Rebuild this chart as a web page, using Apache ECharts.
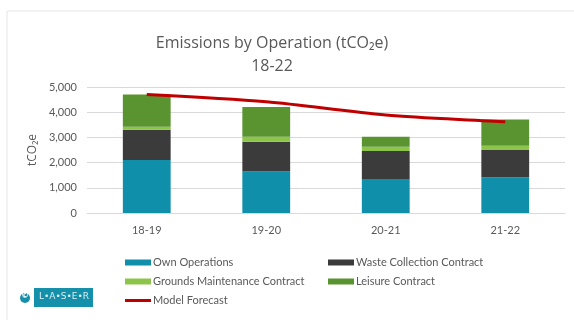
<!DOCTYPE html>
<html>
<head>
<meta charset="utf-8">
<script src="https://cdn.jsdelivr.net/npm/echarts@6/dist/echarts.min.js"></script>
<style>
  html, body { margin: 0; padding: 0; background: #fff; }
  #main { width: 574px; height: 320px; }
</style>
</head>
<body>
<div id="main"></div>
<script>
  // data
  var years = ['18-19', '19-20', '20-21', '21-22'];
  var ownOperations = [2100, 1650, 1350, 1420];
  var wasteCollection = [1200, 1180, 1110, 1080];
  var groundsMaintenance = [120, 200, 170, 170];
  var leisureContract = [1280, 1180, 400, 1045];
  var modelForecast = [4700, 4410, 3890, 3620];
  var yTicks = [0, 1000, 2000, 3000, 4000, 5000];

  var grey = '#595959';
  var font = 'Lato';
  var chart = echarts.init(document.getElementById('main'));

  function barSeries(name, data, color) {
    return {
      name: name,
      type: 'bar',
      stack: 'total',
      barWidth: '40%',
      itemStyle: { color: color },
      data: data
    };
  }

  var legendText = { color: grey, fontSize: 11, fontFamily: font, padding: [0, 0, 0, -3] };

  var option = {
    animation: false,
    title: {
      text: 'Emissions by Operation (tCO₂e)\n18-22',
      left: 267,
      textAlign: 'center',
      top: 27,
      textStyle: {
        color: grey,
        fontFamily: 'Open Sans',
        fontWeight: 'normal',
        fontSize: 16,
        lineHeight: 23
      }
    },
    grid: { left: 87, right: 9, top: 87, bottom: 107 },
    legend: [{
      orient: 'vertical',
      left: 120,
      top: 252,
      itemWidth: 26,
      itemHeight: 6,
      itemGap: 8,
      textStyle: legendText,
      data: [
        { name: 'Own Operations', icon: 'rect' },
        { name: 'Grounds Maintenance Contract', icon: 'rect' },
        { name: 'Model Forecast', icon: 'path://M0,0 L26,0 L26,3 L0,3 Z' }
      ]
    }, {
      orient: 'vertical',
      left: 323,
      top: 252,
      itemWidth: 26,
      itemHeight: 6,
      itemGap: 8,
      textStyle: legendText,
      data: [
        { name: 'Waste Collection Contract', icon: 'rect' },
        { name: 'Leisure Contract', icon: 'rect' }
      ]
    }],
    xAxis: {
      type: 'category',
      data: years,
      axisLine: { lineStyle: { color: '#d9d9d9' } },
      axisTick: { show: false },
      axisLabel: { color: grey, fontSize: 11, fontFamily: font, margin: 12 }
    },
    yAxis: {
      type: 'value',
      min: yTicks[0],
      max: yTicks[yTicks.length - 1],
      interval: 1000,
      name: 'tCO₂e',
      nameLocation: 'middle',
      nameGap: 48,
      nameTextStyle: { color: grey, fontSize: 12, fontFamily: 'Open Sans' },
      axisLine: { show: false },
      axisTick: { show: false },
      splitLine: { lineStyle: { color: '#d9d9d9' } },
      axisLabel: {
        color: grey,
        fontSize: 11,
        fontFamily: font,
        margin: 10,
        formatter: function (v) { return v.toLocaleString('en-US'); }
      }
    },
    graphic: [
      { type: 'rect', shape: { x: 7, y: 11, width: 580, height: 320 }, style: { fill: 'none', stroke: '#e6e6e6', lineWidth: 1 }, silent: true },
      { type: 'circle', shape: { cx: 25, cy: 298, r: 5 }, style: { fill: '#1590aa' } },
      { type: 'text', left: 21, top: 292, style: { text: '©', fill: '#fff', font: 'bold 8px DejaVu Sans' } },
      { type: 'rect', shape: { x: 34, y: 288, width: 59, height: 19 }, style: { fill: '#1590aa' } },
      { type: 'text', left: 39, top: 292, style: { text: 'L•A•S•E•R', fill: '#d8f0f5', font: '9px DejaVu Sans' } }
    ],
    series: [
      barSeries('Own Operations', ownOperations, '#0f8faa'),
      barSeries('Waste Collection Contract', wasteCollection, '#3b3b3b'),
      barSeries('Grounds Maintenance Contract', groundsMaintenance, '#8dc44a'),
      barSeries('Leisure Contract', leisureContract, '#5a9430'),
      {
        name: 'Model Forecast',
        type: 'line',
        smooth: 0.3,
        symbol: 'none',
        lineStyle: { color: '#c00000', width: 3 },
        itemStyle: { color: '#c00000' },
        data: modelForecast
      }
    ]
  };

  chart.setOption(option);
</script>
</body>
</html>
